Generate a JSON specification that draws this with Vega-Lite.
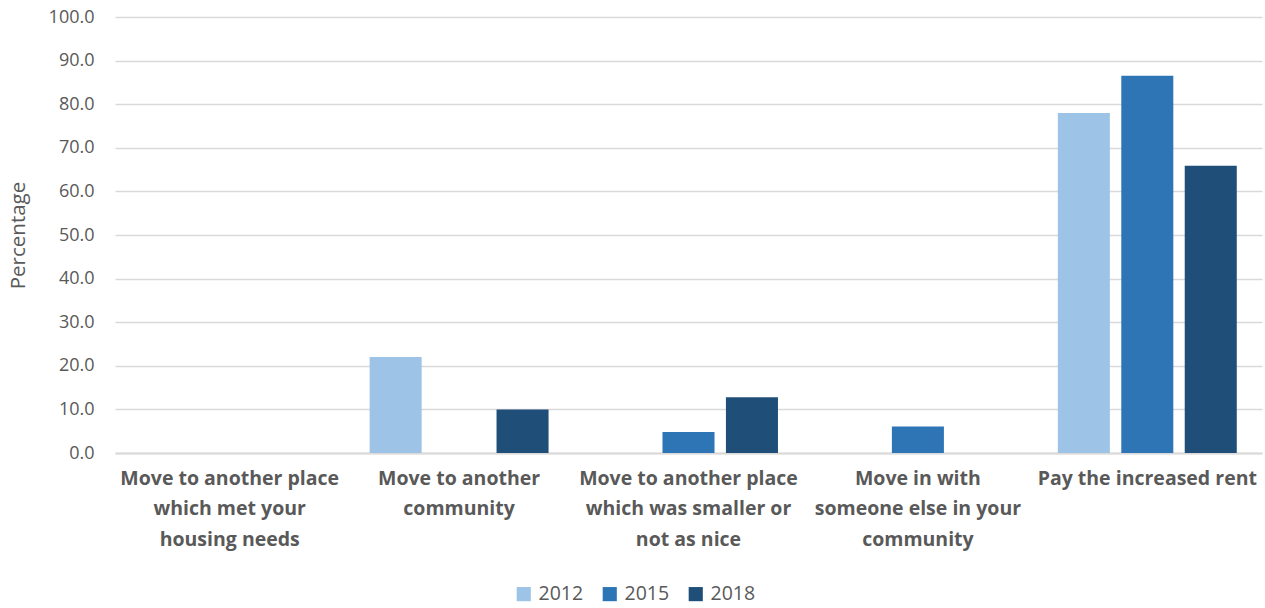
{
  "$schema": "https://vega.github.io/schema/vega-lite/v6.json",
  "width": 1147,
  "height": 436,
  "autosize": {"type": "none"},
  "padding": {"left": 115, "top": 17, "right": 3, "bottom": 155},
  "background": "white",
  "config": {
    "view": {"stroke": null},
    "font": "Open Sans"
  },
  "data": {
    "values": [
      {"cat": "Move to another place|which met your|housing needs", "year": "2012", "pct": 0},
      {"cat": "Move to another place|which met your|housing needs", "year": "2015", "pct": 0},
      {"cat": "Move to another place|which met your|housing needs", "year": "2018", "pct": 0},
      {"cat": "Move to another|community", "year": "2012", "pct": 22.0},
      {"cat": "Move to another|community", "year": "2015", "pct": 0},
      {"cat": "Move to another|community", "year": "2018", "pct": 10.0},
      {"cat": "Move to another place|which was smaller or|not as nice", "year": "2012", "pct": 0},
      {"cat": "Move to another place|which was smaller or|not as nice", "year": "2015", "pct": 4.8},
      {"cat": "Move to another place|which was smaller or|not as nice", "year": "2018", "pct": 12.8},
      {"cat": "Move in with|someone else in your|community", "year": "2012", "pct": 0},
      {"cat": "Move in with|someone else in your|community", "year": "2015", "pct": 6.1},
      {"cat": "Move in with|someone else in your|community", "year": "2018", "pct": 0},
      {"cat": "Pay the increased rent", "year": "2012", "pct": 78.0},
      {"cat": "Pay the increased rent", "year": "2015", "pct": 86.5},
      {"cat": "Pay the increased rent", "year": "2018", "pct": 65.9}
    ]
  },
  "mark": {"type": "bar"},
  "encoding": {
    "x": {
      "field": "cat",
      "type": "nominal",
      "sort": null,
      "scale": {"paddingInner": 0.22, "paddingOuter": 0.11},
      "axis": {
        "title": null,
        "labelAngle": 0,
        "labelExpr": "split(datum.label, '|')",
        "labelFont": "Open Sans",
        "labelFontWeight": "bold",
        "labelFontSize": 19.5,
        "labelColor": "#595959",
        "labelLineHeight": 30.5,
        "labelPadding": 16,
        "labelLimit": 300,
        "ticks": false,
        "domain": true,
        "domainColor": "#d9d9d9",
        "domainWidth": 2
      }
    },
    "xOffset": {
      "field": "year",
      "type": "nominal",
      "scale": {"paddingInner": 0.18, "paddingOuter": 0}
    },
    "y": {
      "field": "pct",
      "type": "quantitative",
      "scale": {"domain": [0, 100], "nice": false},
      "axis": {
        "title": "Percentage",
        "titleFont": "Open Sans",
        "titleFontSize": 20.5,
        "titleFontWeight": "normal",
        "titleColor": "#595959",
        "titlePadding": 20,
        "values": [0, 10, 20, 30, 40, 50, 60, 70, 80, 90, 100],
        "format": ".1f",
        "labelFont": "Open Sans",
        "labelFontSize": 18,
        "labelColor": "#595959",
        "labelPadding": 21,
        "ticks": false,
        "domain": false,
        "grid": true,
        "gridColor": "#d9d9d9",
        "gridWidth": 1.3
      }
    },
    "color": {
      "field": "year",
      "type": "nominal",
      "scale": {"domain": ["2012", "2015", "2018"], "range": ["#9DC3E6", "#2E75B6", "#1F4E79"]},
      "legend": {
        "title": null,
        "orient": "none",
        "direction": "horizontal",
        "legendX": 399,
        "legendY": 567,
        "symbolType": "square",
        "symbolSize": 200,
        "symbolStrokeWidth": 0,
        "labelFont": "Open Sans",
        "labelFontSize": 19.5,
        "labelColor": "#595959",
        "columnPadding": 16,
        "labelOffset": 5
      }
    }
  }
}
